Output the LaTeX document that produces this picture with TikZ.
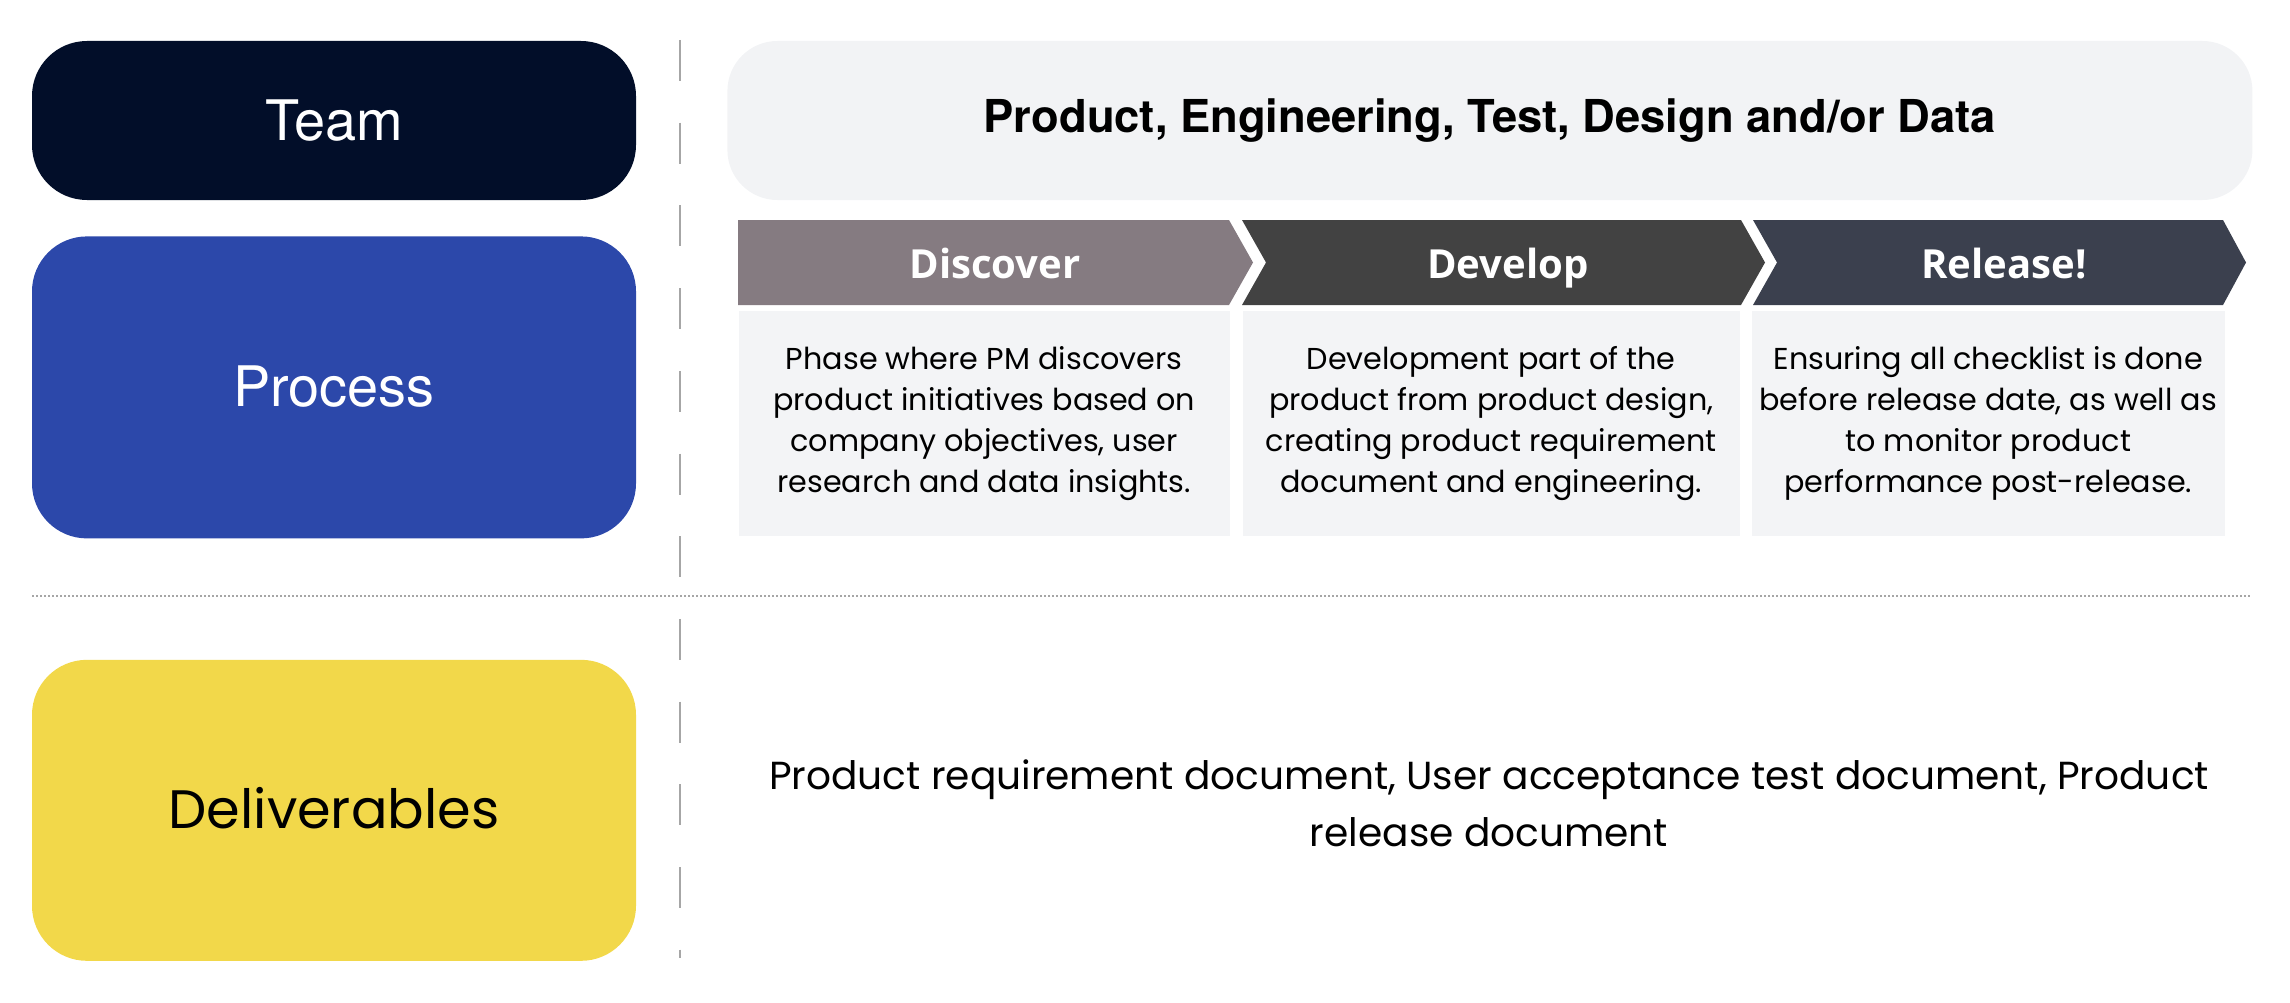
\documentclass[tikz,border=0pt]{standalone}
\usepackage{fontspec}
\setmainfont{Poppins}
\newfontfamily\labelfont{TeX Gyre Heros}
\newfontfamily\phasefont{Open Sans}
\usepackage{xcolor}
\definecolor{colorTeam}{HTML}{020E29}
\definecolor{colorProcess}{HTML}{2C48AA}
\definecolor{colorDeliverables}{HTML}{F2D84A}
\definecolor{colorPanel}{HTML}{F2F3F5}
\definecolor{colorNote}{HTML}{F3F4F6}
\definecolor{colorDiscover}{HTML}{857B81}
\definecolor{colorDevelop}{HTML}{424242}
\definecolor{colorRelease}{HTML}{3B404E}
\colorlet{colorRule}{black!35}
\usetikzlibrary{positioning}
\tikzset{lane/.style={rounded corners=0.55cm, minimum width=6.04cm, inner sep=0pt}}

\begin{document}
\begin{tikzpicture}[x=1cm, y=-1cm, node distance=0.35cm,
  note/.style={fill=colorNote, anchor=north west, minimum height=2.25cm, align=center, inner sep=0pt, font=\fontsize{8.6}{11.66}\selectfont},
  phase/.style={anchor=base, text=white, font=\phasefont\bfseries\fontsize{11.4}{13}\selectfont}]
\useasboundingbox (0,0) rectangle (22.9,10.02);
\node[lane, fill=colorTeam, minimum height=1.59cm, text=white, font=\labelfont\fontsize{15.9}{18}\selectfont] (team) at (3.34,1.205) {Team};
\node[lane, fill=colorProcess, minimum height=3.02cm, text=white, font=\labelfont\fontsize{15.9}{18}\selectfont, below=of team] (process) {\raisebox{0.03cm}{Process}};
\node[lane, fill=colorDeliverables, minimum height=3.01cm, font=\fontsize{15.4}{18}\selectfont, below=1.2cm of process] (deliverables) {\raisebox{0.04cm}{Deliverables}};
\node[lane, rounded corners=0.5cm, fill=colorPanel, minimum width=15.25cm, minimum height=1.59cm, font=\labelfont\bfseries\fontsize{12.9}{15}\selectfont, right=0.90cm of team] (panel) {\raisebox{-0.05cm}{Product, Engineering, Test, Design and/or Data}};
% separators
\coordinate (ruleTop) at (6.80,0.40);
\coordinate (ruleBottom) at (6.80,9.58);
\coordinate (lineLeft) at (0.32,5.96);
\coordinate (lineRight) at (22.51,5.96);
\draw[colorRule, line width=0.02cm, dash pattern=on 0.41cm off 0.417cm] (ruleTop) -- (ruleBottom);
\draw[colorRule, line width=0.015cm, dash pattern=on 0.02cm off 0.02cm] (lineLeft) -- (lineRight);
% phases
\fill[colorDiscover] (7.38,2.20) -- (12.29,2.20) -- (12.53,2.625) -- (12.29,3.05) -- (7.38,3.05) -- cycle;
\fill[colorDevelop] (12.42,2.20) -- (17.41,2.20) -- (17.65,2.625) -- (17.41,3.05) -- (12.42,3.05) -- (12.66,2.625) -- cycle;
\fill[colorRelease] (17.53,2.20) -- (22.23,2.20) -- (22.46,2.625) -- (22.23,3.05) -- (17.53,3.05) -- (17.77,2.625) -- cycle;
\node[phase] (discover) at (9.95,2.78) {Discover};
\node[phase] (develop) at (15.08,2.78) {Develop};
\node[phase] (release) at (20.04,2.78) {Release!};
\node[note, minimum width=4.91cm] (discoverNote) at (7.38,3.10) { Phase where PM discovers\\product initiatives based on\\company objectives, user\\research and data insights.};
\node[note, minimum width=4.97cm] (developNote) at (12.42,3.10) {Development part of the\\product from product design,\\creating product requirement\\document and engineering.};
\node[note, minimum width=4.73cm] (releaseNote) at (17.51,3.10) {Ensuring all checklist is done\\before release date, as well as\\to monitor product\\performance post-release.};
\node[align=center, font=\fontsize{11.13}{16.2}\selectfont] (deliverablesText) at (14.89,8.03) {Product requirement document, User acceptance test document, Product\\release document};
\end{tikzpicture}
\end{document}
